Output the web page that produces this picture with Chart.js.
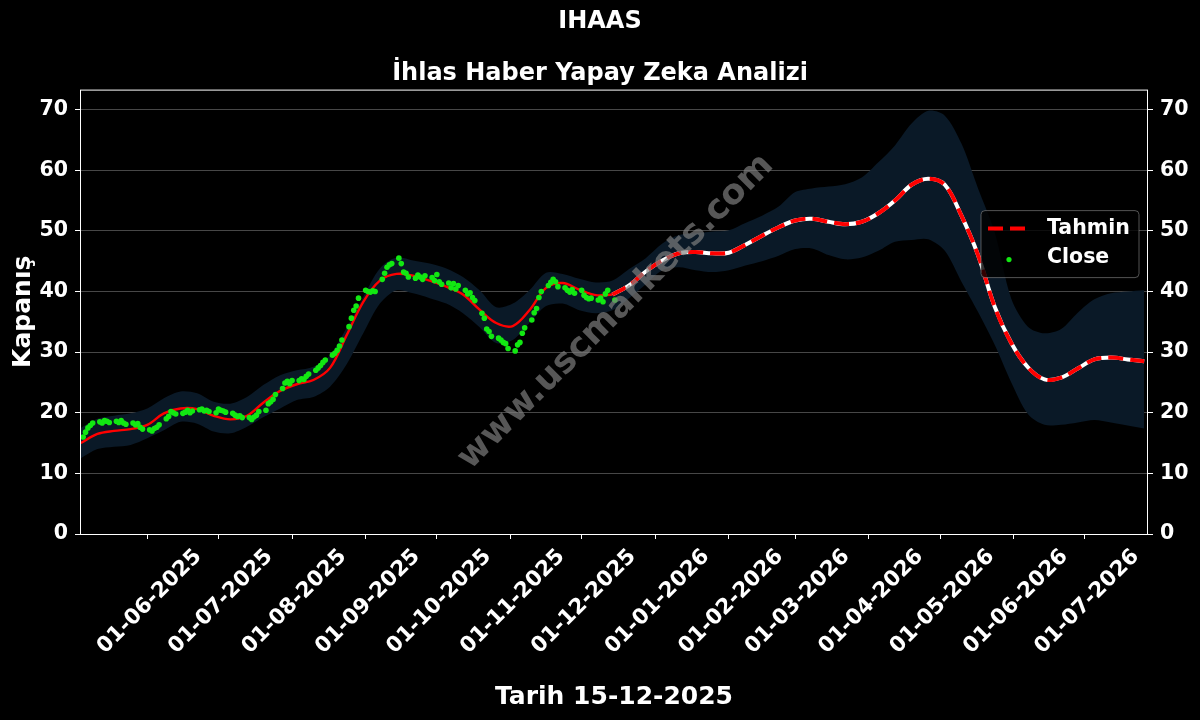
<!DOCTYPE html>
<html lang="tr">
<head>
  <meta charset="UTF-8" />
  <title>IHAAS Yapay Zeka Analizi</title>
  <script src="https://cdn.jsdelivr.net/npm/chart.js"></script>
  <style>
    html, body { margin: 0; padding: 0; background: #000; }
    #kutu { width: 1200px; height: 720px; }
  </style>
</head>
<body>
  <div id="kutu"><canvas id="grafik" width="1200" height="720"></canvas></div>

  <script>
    // --- Veriler ---
    const baslik = 'IHAAS';
    const altBaslik = 'İhlas Haber Yapay Zeka Analizi';
    const xBaslik = 'Tarih 15-12-2025';
    const yBaslik = 'Kapanış';

    // x ekseni: 01-05-2025'ten itibaren gün sayısı
    const xAralik = [2.66, 452.6];
    const yAralik = [0, 73.3];
    const yTikler = [0, 10, 20, 30, 40, 50, 60, 70];
    const ayTikleri = ['01-06-2025', '01-07-2025', '01-08-2025', '01-09-2025', '01-10-2025', '01-11-2025',
      '01-12-2025', '01-01-2026', '01-02-2026', '01-03-2026', '01-04-2026', '01-05-2026', '01-06-2026', '01-07-2026'];

    // Close: 05-05-2025'ten başlayarak her işgünü
    const kapanisBaslangic = '05-05-2025';
    const kapanis = [
      16.0, 16.8, 17.5, 17.9, 18.3,
      18.5, 18.3, 18.7, 18.6, 18.4,
      18.6, 18.4, 18.7, 18.3, 18.1,
      18.3, 18.0, 18.2, 17.6, 17.3,
      17.2, 17.0, 17.4, 17.6, 18.0,
      19.0, 19.4, 20.2, 20.0, 19.8,
      19.9, 20.1, 20.4, 20.0, 20.3,
      20.5, 20.6, 20.3, 20.4, 20.2,
      20.0, 20.6, 20.4, 20.3, 20.1,
      19.9, 19.6, 19.4, 19.5, 19.2,
      19.2, 18.9, 19.3, 19.6, 20.2,
      20.4, 21.5, 21.8, 22.2, 23.0,
      24.0, 24.9, 25.2, 24.8, 25.3,
      25.3, 25.6, 25.5, 26.0, 26.4,
      27.0, 27.4, 27.8, 28.3, 28.7,
      29.5, 29.8, 30.3, 31.0, 32.0,
      34.2, 35.6, 36.9, 37.6, 38.9,
      40.2, 40.0, 39.9, 40.1, 40.0,
      42.0, 43.0, 44.0, 44.4, 44.6,
      45.5, 44.6, 43.2, 43.0, 42.4,
      42.2, 42.7, 42.4, 42.0, 42.6,
      42.3, 41.8, 42.8, 41.6, 41.2,
      41.4, 40.6, 41.3, 40.4, 41.0,
      40.2, 39.6, 39.8, 39.0, 38.5,
      36.4, 35.6, 33.8, 33.4, 32.6,
      32.3, 32.0, 31.6, 31.4, 30.6,
      30.2, 31.2, 31.6, 33.1, 34.0,
      35.3, 36.5, 37.2, 39.0, 40.0,
      41.0, 41.5, 42.0, 41.6, 40.8,
      40.6, 40.2, 39.9, 40.3, 39.7,
      40.2, 39.4, 39.0, 38.8, 38.9,
      38.6, 38.9, 38.3, 39.6, 40.2,
      38.6
    ];

    // Tahmin ve güven bandı: 04-05-2025'ten başlayarak haftalık
    const tahminBaslangic = '04-05-2025';
    const tahminAyrim = 32; // bu noktadan sonrası ileriye dönük tahmin
    const tahmin = [
      15.0, 16.5, 17.0, 17.3, 18.0, 19.9, 20.7, 20.6, 19.5, 18.9,
      19.5, 21.7, 23.6, 24.7, 25.4, 27.4, 32.8, 38.3, 41.8, 42.9,
      42.6, 41.8, 40.8, 39.5, 37.0, 34.8, 34.3, 36.9, 40.6, 41.4,
      40.3, 39.4, 39.5, 41.0, 43.3, 45.1, 46.3, 46.5, 46.3, 46.4,
      47.7, 49.2, 50.6, 51.7, 52.0, 51.5, 51.1, 51.5, 52.9, 55.0,
      57.6, 58.6, 57.6, 52.5, 46.0, 37.5, 31.5, 27.5, 25.5, 25.8,
      27.3, 28.8, 29.1, 28.8, 28.5
    ];
    const bantAlt = [
      12.5, 14.0, 14.4, 14.7, 15.8, 17.1, 18.5, 18.2, 16.9, 16.6,
      17.7, 19.3, 20.7, 22.1, 22.6, 24.3, 28.0, 33.1, 38.0, 40.2,
      39.7, 38.9, 38.0, 36.4, 34.1, 31.5, 32.0, 34.8, 37.6, 38.0,
      36.9, 36.4, 36.9, 38.9, 41.2, 43.5, 44.0, 43.5, 43.2, 43.5,
      44.3, 45.0, 45.9, 47.0, 47.1, 46.0, 45.3, 45.6, 46.7, 48.2,
      48.5, 48.6, 46.7, 41.6, 36.6, 31.2, 25.0, 19.8, 18.0, 18.0,
      18.4, 18.8, 18.4, 17.9, 17.4
    ];
    const bantUst = [
      17.5, 19.0, 19.5, 19.9, 20.7, 22.4, 23.5, 23.2, 21.8, 21.5,
      22.6, 24.6, 26.2, 27.0, 27.6, 29.5, 34.0, 39.1, 43.8, 45.6,
      45.1, 44.6, 43.8, 42.4, 40.2, 37.4, 38.0, 40.2, 43.1, 42.9,
      42.1, 41.5, 41.8, 43.7, 45.5, 47.9, 49.3, 49.6, 49.9, 50.1,
      51.3, 52.5, 54.0, 56.4, 57.0, 57.3, 57.7, 58.8, 61.3, 64.1,
      67.7, 69.8, 69.0, 64.4, 57.0, 49.8, 38.8, 34.2, 33.1, 33.8,
      36.5, 38.7, 39.7, 40.0, 40.2
    ];

    // --- Yardımcılar ---
    const GUN0 = Date.UTC(2025, 4, 1);
    function gun(s) {
      const [d, m, y] = s.split('-').map(Number);
      return (Date.UTC(y, m - 1, d) - GUN0) / 86400000;
    }

    const kapanisGunleri = [];
    let g = gun(kapanisBaslangic);
    while (kapanisGunleri.length < kapanis.length) {
      const hg = new Date(GUN0 + g * 86400000).getUTCDay();
      if (hg !== 0 && hg !== 6) kapanisGunleri.push(g);
      g++;
    }
    const tahminGunleri = tahmin.map((_, i) => gun(tahminBaslangic) + 7 * i);

    const noktala = (gunler, degerler) => degerler.map((v, i) => ({ x: gunler[i], y: v }));
    const kapanisNokta = noktala(kapanisGunleri, kapanis);
    const tahminNokta = noktala(tahminGunleri, tahmin);
    const gecmis = tahminNokta.slice(0, tahminAyrim + 1);
    const gelecek = tahminNokta.slice(tahminAyrim);
    const altNokta = noktala(tahminGunleri, bantAlt);
    const ustNokta = noktala(tahminGunleri, bantUst);

    const YESIL = '#12e812';
    const BANT = '#0a1927';
    const izgara = 'rgba(255,255,255,0.28)';

    Chart.defaults.font.family = "'DejaVu Sans', sans-serif";
    Chart.defaults.font.weight = 'bold';
    Chart.defaults.color = '#fff';

    // çerçeve, filigran ve gösterge
    const cizimler = {
      id: 'cizimler',
      afterDatasetsDraw(chart) {
        const { ctx, chartArea: a } = chart;
        ctx.save();
        ctx.translate(616, 312);
        ctx.rotate(-Math.PI / 4);
        ctx.font = "bold 35px 'DejaVu Sans'";
        ctx.fillStyle = 'rgba(128,128,128,0.68)';
        ctx.textAlign = 'center';
        ctx.textBaseline = 'middle';
        ctx.fillText('www.uscmarkets.com', 0, 0);
        ctx.restore();

        ctx.save();
        ctx.strokeStyle = '#fff';
        ctx.lineWidth = 1;
        ctx.strokeRect(a.left + 0.5, a.top + 0.5, a.right - a.left - 1, a.bottom - a.top);
        ctx.restore();
      },
      afterDraw(chart) {
        const { ctx, chartArea: a } = chart;
        const x = a.right - 167, y = a.top + 121, w = 158, h = 67;
        ctx.save();
        ctx.beginPath();
        ctx.roundRect(x, y, w, h, 4);
        ctx.fillStyle = 'rgba(0,0,0,0.8)';
        ctx.fill();
        ctx.strokeStyle = 'rgba(150,150,150,0.55)';
        ctx.lineWidth = 1;
        ctx.stroke();

        ctx.beginPath();
        ctx.setLineDash([15, 7]);
        ctx.strokeStyle = 'red';
        ctx.lineWidth = 4;
        ctx.moveTo(x + 7, y + 18);
        ctx.lineTo(x + 45, y + 18);
        ctx.stroke();
        ctx.setLineDash([]);

        ctx.beginPath();
        ctx.arc(x + 28, y + 49, 2.6, 0, Math.PI * 2);
        ctx.fillStyle = YESIL;
        ctx.fill();

        ctx.font = "bold 20.5px 'DejaVu Sans'";
        ctx.fillStyle = '#fff';
        ctx.textBaseline = 'middle';
        ctx.fillText('Tahmin', x + 66, y + 18);
        ctx.fillText('Close', x + 66, y + 47);
        ctx.restore();
      }
    };

    new Chart(document.getElementById('grafik').getContext('2d'), {
      type: 'line',
      data: {
        datasets: [
          { label: 'Close', data: kapanisNokta, showLine: false, pointRadius: 2.8, pointHoverRadius: 2.8,
            pointBackgroundColor: YESIL, pointBorderWidth: 0 },
          { label: 'Tahmin', data: gelecek, borderColor: 'red', borderWidth: 4, borderDash: [15, 7],
            pointRadius: 0, tension: 0.35 },
          { label: 'zemin', data: gelecek, borderColor: '#fff', borderWidth: 4, pointRadius: 0, tension: 0.35 },
          { label: 'gecmis', data: gecmis, borderColor: 'red', borderWidth: 2.4, pointRadius: 0, tension: 0.35 },
          { label: 'alt', data: altNokta, borderColor: 'transparent', borderWidth: 0, pointRadius: 0,
            tension: 0.3, fill: false },
          { label: 'ust', data: ustNokta, borderColor: 'transparent', borderWidth: 0, pointRadius: 0,
            tension: 0.3, fill: '-1', backgroundColor: BANT }
        ]
      },
      options: {
        responsive: false,
        animation: false,
        layout: { padding: 0 },
        plugins: {
          legend: { display: false },
          tooltip: { enabled: false },
          title: { display: true, text: baslik, font: { size: 24, weight: 'bold' }, color: '#fff',
            padding: { top: 7, bottom: 24 } },
          subtitle: { display: true, text: altBaslik, font: { size: 24, weight: 'bold' }, color: '#fff',
            padding: { top: 0, bottom: 1 } }
        },
        scales: {
          x: {
            type: 'linear',
            min: xAralik[0],
            max: xAralik[1],
            afterBuildTicks: s => { s.ticks = ayTikleri.map(t => ({ value: gun(t) })); },
            afterFit: s => { s.height = 186; },
            ticks: {
              autoSkip: false, minRotation: 45, maxRotation: 45, labelOffset: 51, padding: 5,
              font: { size: 21.5, weight: 'bold' }, color: '#fff',
              callback: (v, i) => ayTikleri[i]
            },
            grid: { drawOnChartArea: false, drawTicks: true, tickLength: 5, tickColor: '#fff' },
            border: { display: false },
            title: { display: true, text: xBaslik, font: { size: 25, weight: 'bold' }, color: '#fff',
              padding: { top: 4, bottom: 8 } }
          },
          y: {
            position: 'left',
            min: yAralik[0],
            max: yAralik[1],
            afterBuildTicks: s => { s.ticks = yTikler.map(v => ({ value: v })); },
            afterFit: s => { s.width = 80; },
            ticks: { padding: 7, font: { size: 20.5, weight: 'bold' }, color: '#fff' },
            grid: { color: izgara, lineWidth: 1, tickLength: 5, tickColor: '#fff' },
            border: { display: false },
            title: { display: true, text: yBaslik, font: { size: 25, weight: 'bold' }, color: '#fff',
              padding: { top: 8, bottom: 4 } }
          },
          y2: {
            position: 'right',
            min: yAralik[0],
            max: yAralik[1],
            afterBuildTicks: s => { s.ticks = yTikler.map(v => ({ value: v })); },
            afterFit: s => { s.width = 52; },
            ticks: { padding: 7, font: { size: 20.5, weight: 'bold' }, color: '#fff' },
            grid: { drawOnChartArea: false, tickLength: 5, tickColor: '#fff' },
            border: { display: false }
          }
        }
      },
      plugins: [cizimler]
    });
  </script>
</body>
</html>
